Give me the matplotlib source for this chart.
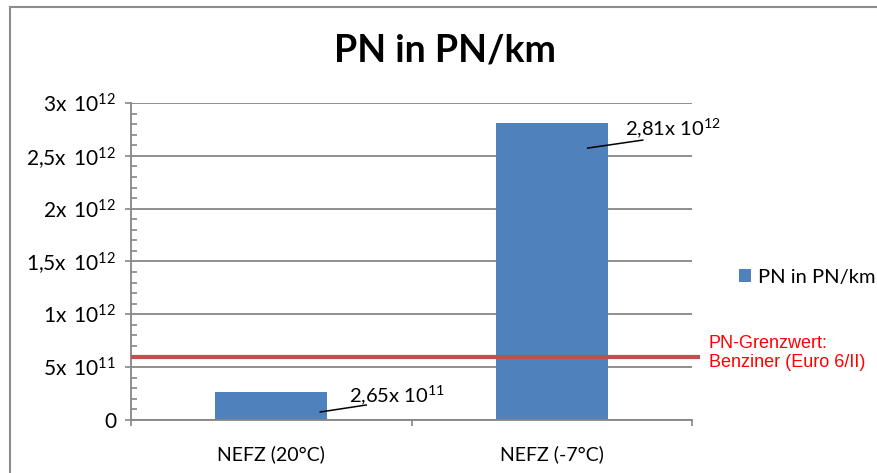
import matplotlib
matplotlib.use("Agg")
import matplotlib.pyplot as plt
from matplotlib.lines import Line2D
from matplotlib.patches import Patch
from matplotlib.transforms import offset_copy
from matplotlib.ticker import FixedLocator, FixedFormatter, MultipleLocator

# ---- data ----
categories = ["NEFZ (20°C)", "NEFZ (-7°C)"]
pn_values = [2.65e11, 2.81e12]
value_labels = [r"2,65x $10^{11}$", r"2,81x $10^{12}$"]
series_name = "PN in PN/km"
limit_value = 6e11
limit_label = "PN-Grenzwert:\nBenziner (Euro 6/II)"
y_ticks = [0, 5e11, 1e12, 1.5e12, 2e12, 2.5e12, 3e12]
y_tick_labels = ["0", r"5x $\,10^{11}$", r"1x $\,10^{12}$", r"1,5x $\,10^{12}$",
                 r"2x $\,10^{12}$", r"2,5x $\,10^{12}$", r"3x $\,10^{12}$"]
title = "PN in PN/km"

plt.rcParams["font.family"] = ["Lato", "DejaVu Sans"]
plt.rcParams["mathtext.fontset"] = "custom"
plt.rcParams["mathtext.rm"] = "Lato"
plt.rcParams["mathtext.it"] = "Lato:italic"
plt.rcParams["mathtext.bf"] = "Lato:bold"

W, H = 877, 473
fig = plt.figure(figsize=(W / 100, H / 100), dpi=100)
fig.patch.set_facecolor("white")

ax = fig.add_axes([131 / W, 1 - 420 / H, (692 - 131) / W, (420 - 103) / H])

grey = "#868686"
bar_color = "#4F81BD"
x = list(range(len(categories)))
ax.bar(x, pn_values, width=0.40, color=bar_color, zorder=3)

ax.set_xlim(-0.5, len(categories) - 0.5)
ax.set_ylim(0, 3e12)

# y axis
ax.yaxis.set_major_locator(FixedLocator(y_ticks))
ax.yaxis.set_major_formatter(FixedFormatter(y_tick_labels))
ax.yaxis.set_minor_locator(MultipleLocator(1e11))
ax.tick_params(axis="y", which="major", direction="out", length=4.5, width=1.2,
               color=grey, labelsize=15, pad=6, labelcolor="black")
ax.tick_params(axis="y", which="minor", direction="in", length=4.5, width=1.2, color=grey)
ax.grid(axis="y", which="major", color=grey, linewidth=1.3, zorder=0)

# x axis
ax.set_xticks(x)
ax.set_xticklabels(categories)
ax.set_xticks([i - 0.5 for i in range(len(categories) + 1)], minor=True)
ax.tick_params(axis="x", which="major", length=0, labelsize=14, pad=18)
ax.tick_params(axis="x", which="minor", direction="out", length=4.5, width=1.2, color=grey)

for s in ["top", "right"]:
    ax.spines[s].set_visible(False)
for s in ["left", "bottom"]:
    ax.spines[s].set_color(grey)
    ax.spines[s].set_linewidth(1.3)
    ax.spines[s].set_zorder(4)

# limit line
ax.plot([-0.5, 1.53], [limit_value, limit_value], color="#C0504D", linewidth=3.0,
        clip_on=False, zorder=5, solid_capstyle="butt")
fig.text(709 / W, 1 - 353 / H, limit_label, color="#FF0000", fontsize=13,
         family=["Liberation Sans", "DejaVu Sans"], ha="left", va="center",
         linespacing=1.15)

# data labels with leader lines (pixel offsets from bar top-centre)
leader_start = [(49, -20), (36, -25)]
leader_end = [(95, -13), (91, -17)]
text_pos = [(126, -3), (121, -5)]
for i, (v, lab) in enumerate(zip(pn_values, value_labels)):
    t0 = offset_copy(ax.transData, fig=fig, x=leader_start[i][0], y=leader_start[i][1], units="dots")
    t1 = offset_copy(ax.transData, fig=fig, x=leader_end[i][0], y=leader_end[i][1], units="dots")
    p0 = t0.transform((i, v))
    p1 = t1.transform((i, v))
    fig.add_artist(Line2D([p0[0] / W, p1[0] / W], [p0[1] / H, p1[1] / H],
                          transform=fig.transFigure, color="black", linewidth=1.1, zorder=6))
    tt = offset_copy(ax.transData, fig=fig, x=text_pos[i][0], y=text_pos[i][1], units="dots")
    ax.text(i, v, lab, transform=tt, ha="center", va="center", fontsize=14.5, zorder=6)

# legend
fig.legend(handles=[Patch(facecolor=bar_color, edgecolor="none")], labels=[series_name],
           loc="center left", bbox_to_anchor=(729 / W, 1 - 277 / H), frameon=False,
           handlelength=0.6, handleheight=0.6, handletextpad=0.35, borderpad=0,
           fontsize=14.5)

# title
fig.text(445 / W, 1 - 50 / H, title, ha="center", va="center", fontsize=27,
         fontweight="bold")

# chart border
fig.add_artist(Line2D([9.5 / W, 9.5 / W], [0, 1 - 7 / H], transform=fig.transFigure,
                      color="#8c8c8c", linewidth=1.5))
fig.add_artist(Line2D([9.5 / W, 1], [1 - 7 / H, 1 - 7 / H], transform=fig.transFigure,
                      color="#8c8c8c", linewidth=1.5))

fig.savefig("out.png", dpi=100)
